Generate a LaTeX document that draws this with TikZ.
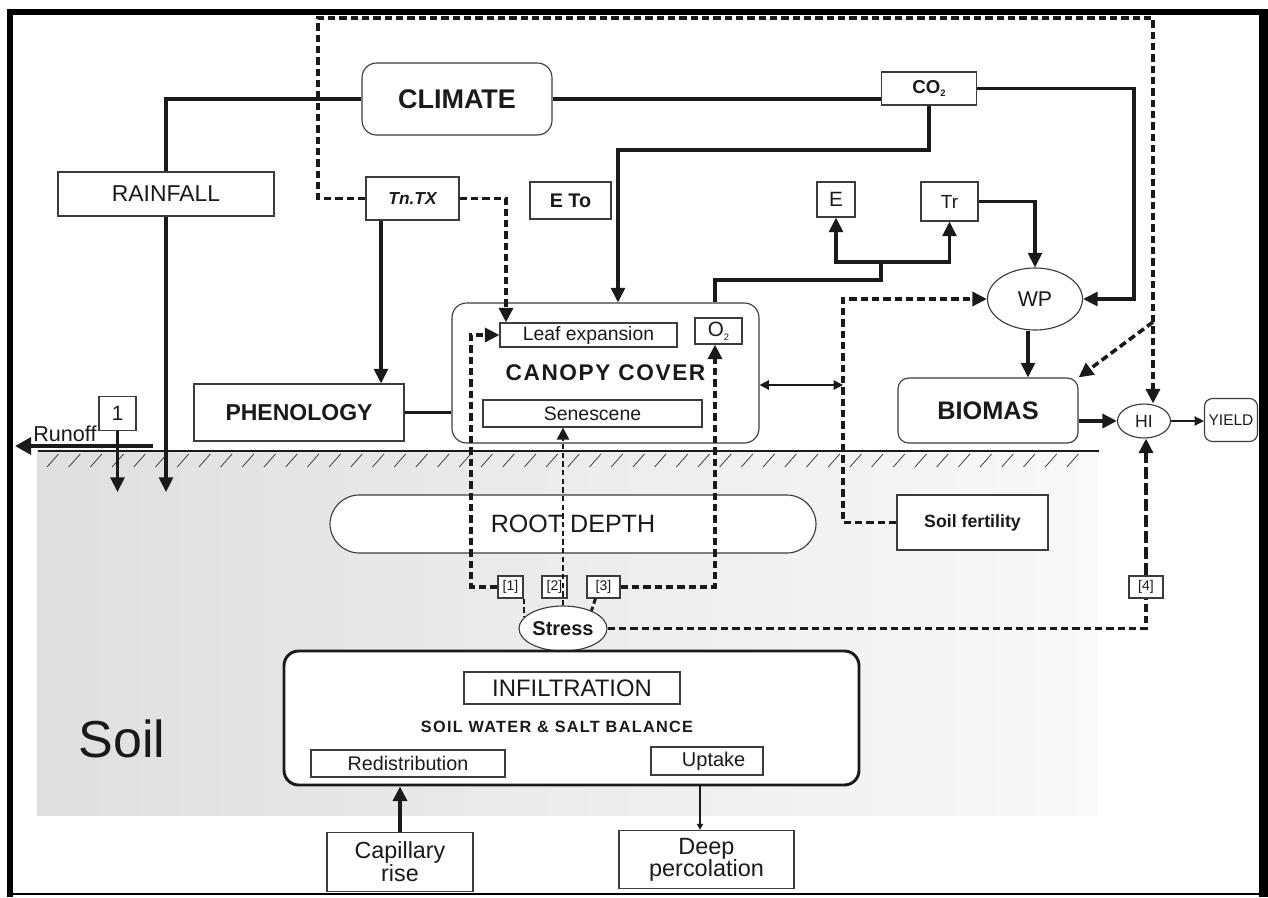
\documentclass[tikz,border=0pt]{standalone}
\usepackage{fontspec}
\setmainfont{Liberation Sans}
\usetikzlibrary{arrows.meta,shapes.geometric,calc}

\definecolor{ink}{HTML}{1A1A1A}
\definecolor{edge}{HTML}{3C3C3C}
\definecolor{soilL}{HTML}{DFDFDF}
\definecolor{soilR}{HTML}{F9F9F9}

\newcommand{\fsz}[1]{\fontsize{#1}{#1}\selectfont}
\newcommand{\lowtwo}[1]{\raisebox{-0.35ex}{\fontsize{#1}{#1}\selectfont 2}}

\tikzset{
  bx/.style={draw=edge, line width=0.85pt, fill=white, inner sep=0pt, text=ink},
  rbox/.style={bx, rounded corners=#1},
  rbox/.default=8pt,
  oval/.style={bx, ellipse},
  conn/.style={draw=ink, line width=2.3pt},
  thinconn/.style={draw=ink, line width=1.1pt},
  dconn/.style={draw=ink, line width=2.7pt, dash pattern=on 5.5pt off 3pt},
  bigtip/.style={-{Triangle[length=11pt,width=10.5pt]}},
  smalltip/.style={-{Triangle[length=7pt,width=7pt]}},
}

\begin{document}
\begin{tikzpicture}[x=0.75pt,y=-0.75pt]
\useasboundingbox (0,0) rectangle (1268,897);

% soil layer with ground surface hatching
\fill[left color=soilL, right color=soilR] (37,451) rectangle (1097,815);
\draw[line width=0.8pt, ink] (38,451) -- (1099,451);
\foreach \hx in {47,68.7,...,1086}
  \draw[line width=0.6pt, black!75] (\hx,467) -- ++(11.5,-13);

% frame
\draw[line width=4.2pt, black] (10,897) -- (10,12) -- (1262,12);
\fill[black] (1259,9) rectangle (1268,897);
\draw[line width=2.2pt, black] (10,894) -- (1262,894);

% ---------- nodes above ground ----------
\node[rbox=11pt, minimum width=142.5pt, minimum height=54pt, font=\fsz{20.25}\bfseries] (climate) at (457,99) {CLIMATE};
\node[bx, minimum width=162pt, minimum height=33pt, font=\fsz{17.2}] (rain) at (166,194) {RAINFALL};
\node[bx, minimum width=69.75pt, minimum height=32.25pt, font=\fsz{13}\bfseries\itshape] (tntx) at (412.5,198.5) {Tn.TX};
\node[bx, minimum width=60.75pt, minimum height=27.75pt, font=\fsz{14.8}\bfseries] (eto) at (570.5,200.5) {E To};
\node[bx, minimum width=71.25pt, minimum height=24.75pt, font=\fsz{14}\bfseries] (co2) at (929,88.5) {CO\lowtwo{7}};
\node[bx, minimum width=28.5pt, minimum height=26.25pt, font=\fsz{15.5}] (evap) at (836,199.5) {E};
\node[bx, minimum width=42.75pt, minimum height=29.25pt, font=\fsz{14.25}] (tr) at (949.5,201.5) {Tr};
\node[oval, minimum width=71.25pt, minimum height=46.5pt, font=\fsz{16}] (wp) at (1035,299) {WP};
\node[rbox=11pt, minimum width=230.25pt, minimum height=105pt, font=\fsz{17}\bfseries\addfontfeature{LetterSpace=7}] (canopy) at (605.5,373) {CANOPY COVER};
\node[bx, minimum width=132.75pt, minimum height=18pt, font=\fsz{14.5}] (leaf) at (588.5,335) {Leaf expansion};
\node[bx, minimum width=35.25pt, minimum height=19.5pt, font=\fsz{15.5}] (otwo) at (718.5,331) {O\lowtwo{7}};
\node[bx, minimum width=164.25pt, minimum height=20.25pt, font=\fsz{14.6}] (sen) at (592.5,413.5) {Senescene};
\node[bx, minimum width=157.5pt, minimum height=42.75pt, font=\fsz{17.25}\bfseries] (pheno) at (299,412.5) {PHENOLOGY};
\node[rbox=8pt, minimum width=135pt, minimum height=48.75pt, font=\fsz{19}\bfseries] (biomas) at (988,410.5) {BIOMAS};
\node[oval, minimum width=39.75pt, minimum height=25.5pt, font=\fsz{13.2}] (hi) at (1144,421) {HI};
\node[rbox=6pt, minimum width=39.75pt, minimum height=32.25pt, font=\fsz{11.6}] (yield) at (1231,420) {YIELD};
\node[bx, minimum width=27.75pt, minimum height=25.5pt, font=\fsz{15.5}] (one) at (117.5,413.5) {1};
\node[text=ink, font=\fsz{16.2}, anchor=base west, inner sep=0pt] (runoff) at (33,441) {Runoff};

% ---------- nodes in the soil ----------
\node[rbox=22pt, minimum width=364.5pt, minimum height=43.5pt, font=\fsz{18.8}] (root) at (573,524) {ROOT DEPTH};
\node[bx, minimum width=113.25pt, minimum height=41.25pt, font=\fsz{13.3}\bfseries] (fert) at (972.5,522.5) {Soil fertility};
\node[bx, minimum width=18.75pt, minimum height=16.5pt, font=\fsz{10.5}] (s1) at (510.5,587) {[1]};
\node[bx, minimum width=18.75pt, minimum height=16.5pt, font=\fsz{10.5}] (s2) at (554.5,587) {[2]};
\node[bx, minimum width=24.75pt, minimum height=16.5pt, font=\fsz{10.5}] (s3) at (603.5,587) {[3]};
\node[oval, minimum width=66pt, minimum height=33.75pt, font=\fsz{15}\bfseries] (stress) at (563,628.5) {Stress};
\node[bx, minimum width=25.5pt, minimum height=16.5pt, font=\fsz{10.5}] (s4) at (1146,587) {[4]};
\node[rbox=11pt, draw=ink, line width=2.2pt, minimum width=431.25pt, minimum height=100.5pt] (swb) at (571.5,718) {};
\node[bx, minimum width=162pt, minimum height=24pt, font=\fsz{17.9}] (infil) at (572,688) {INFILTRATION};
\node[text=ink, font=\fsz{12.2}\bfseries\addfontfeature{LetterSpace=8}] (swbtitle) at (557,727) {SOIL WATER \& SALT BALANCE};
\node[bx, minimum width=145.5pt, minimum height=20.25pt, font=\fsz{14.8}] (redis) at (408,763.5) {Redistribution};
\node[bx, minimum width=84pt, minimum height=21pt, font=\fsz{15}] (uptake) at (707,761) {\hspace*{10pt}Uptake};
\node[text=ink, font=\fsz{39}] (soil) at (122,739) {Soil};

% ---------- nodes below the soil ----------
\node[bx, minimum width=109.5pt, minimum height=44.25pt, align=center, font=\fontsize{17.5}{16}\selectfont] (cap) at (400,862) {Capillary\\rise};
\node[bx, minimum width=131.25pt, minimum height=43.5pt, align=center, font=\fontsize{17.6}{16.5}\selectfont] (deep) at (706.5,859.5) {Deep\\percolation};

% ---------- connectors ----------
% climate, rainfall and runoff
\coordinate (soilin) at (0,492);
\draw[conn] (climate.west) -| (rain.north);
\draw[conn, bigtip] (rain.south) -- (rain.south |- soilin);
\draw[conn, bigtip] (one.south) -- (one.south |- soilin);
\coordinate (roS) at (153,446);
\coordinate (roE) at (15,446);
\draw[conn, line width=3pt, -{Triangle[length=12pt,width=12.5pt]}] (roS) -- (roE);

% climate to CO2, CO2 to canopy and to WP
\draw[conn] (climate.east) -- (climate.east -| co2.west);
\coordinate (cotw) at (618,150);
\draw[conn, bigtip] (co2.south) |- (cotw) -- (cotw |- canopy.north);
\coordinate (coR) at (1134,88.5);
\draw[conn, bigtip] (co2.east) -- (coR) |- (wp.east);

% temperature links
\coordinate (tnx) at (381,300);
\draw[conn, bigtip] (tntx.south -| tnx) -- (pheno.north -| tnx);
\coordinate (dTL) at (318,18);
\coordinate (dTR) at (1153,18);
\draw[dconn, bigtip] (tntx.west) -| (dTL) -- (dTR) -- (dTR |- hi.north);
\coordinate (dgS) at (1153,322);
\draw[dconn, bigtip] (dgS) -- (biomas.north east);
\coordinate (lfx) at (506,198.5);
\draw[dconn, bigtip] (tntx.east) -- (lfx) -- (lfx |- leaf.north);

% canopy to evaporation and transpiration
\coordinate (cnx) at (715,280);
\coordinate (split) at (881,262);
\draw[conn] (canopy.north -| cnx) -- (cnx) -| (split);
\draw[conn, bigtip] (split) -| (evap.south);
\draw[conn, bigtip] (split) -| (tr.south);

% water productivity, biomass, harvest index, yield
\draw[conn, bigtip] (tr.east) -| (wp.north);
\coordinate (wpx) at (1028,0);
\draw[conn, bigtip] (wp.south -| wpx) -- (biomas.north -| wpx);
\draw[conn, line width=3pt, bigtip] (biomas.east |- hi.west) -- (hi.west);
\draw[thinconn, smalltip] (hi.east) -- (hi.east -| yield.west);

% phenology and canopy
\draw[conn] (pheno.east) -- (pheno.east -| canopy.west);
\coordinate (fx) at (843,385);
\draw[thinconn, {Triangle[length=7pt,width=7pt]}-{Triangle[length=7pt,width=7pt]}] (canopy.east |- fx) -- (fx);

% soil fertility to WP
\coordinate (fxt) at (843,299);
\draw[dconn, bigtip] (fert.west) -| (fxt) -- (wp.west);

% stress links
\coordinate (lx) at (471,335);
\draw[dconn, bigtip] (s1.west) -| (lx) -- (leaf.west);
\coordinate (ox) at (715,0);
\draw[dconn, bigtip] (s3.east) -| (otwo.south -| ox);
\draw[ink, line width=1.6pt, dash pattern=on 4pt off 2.5pt, -{Triangle[length=9pt,width=9pt]}] (stress.north) -- (stress.north |- sen.south);
\coordinate (s1x) at (524,0);
\draw[ink, line width=2.2pt, dash pattern=on 4pt off 2.5pt] (s1.south -| s1x) -- (stress.162 -| s1x);
\draw[ink, line width=2.2pt, dash pattern=on 4pt off 2.5pt] (s3.south west) ++(9,0) -- (stress.32);
\draw[dconn] (stress.east) -| (s4.south);
\draw[ink, line width=2.7pt, dash pattern=on 9pt off 3pt, bigtip] (s4.north) -- (hi.south -| s4.north);

% water balance fluxes
\draw[conn, line width=2.6pt, bigtip] (cap.north) -- (cap.north |- swb.south);
\coordinate (ux) at (700,0);
\draw[ink, line width=1.3pt, -{Triangle[length=4.5pt,width=4.5pt]}] (swb.south -| ux) -- (deep.north -| ux);

\end{tikzpicture}
\end{document}
